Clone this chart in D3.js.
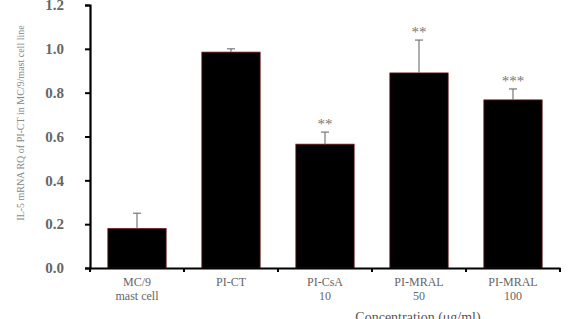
<!DOCTYPE html>
<html>
<head>
<meta charset="utf-8">
<script src="https://cdn.jsdelivr.net/npm/d3@7"></script>
<style>
  body { margin: 0; background: #fff; }
  svg { display: block; }
  .tick text { font-family: "Liberation Serif", "DejaVu Serif", serif; fill: #666; }
</style>
</head>
<body>
<svg id="chart" width="570" height="319"></svg>
<script>
const MARGIN = { top: 5, right: 10, bottom: 51, left: 90 }
const W = 570, H = 319

// data
const categories = ['MC/9|mast cell', 'PI-CT', 'PI-CsA|10', 'PI-MRAL|50', 'PI-MRAL|100']
const values = [0.18, 0.985, 0.565, 0.89, 0.767]
const errors = [0.07, 0.015, 0.055, 0.15, 0.05]
const marks = ['', '', '**', '**', '***']
const yTicks = [0, 0.2, 0.4, 0.6, 0.8, 1.0, 1.2]

const boundedWidth = W - MARGIN.left - MARGIN.right
const boundedHeight = H - MARGIN.top - MARGIN.bottom

const $svg = d3.select('#chart')
const $g = $svg.append('g').attr('transform', `translate(${MARGIN.left},${MARGIN.top})`)

const xScale = d3.scaleBand()
    .domain(categories)
    .range([0, boundedWidth])
    .paddingInner(0.38)
    .paddingOuter(0.19)
const yScale = d3.scaleLinear().domain([0, 1.2]).range([boundedHeight, 0])

// bars
$g.selectAll('rect.bar')
    .data(categories)
    .join('rect')
    .attr('class', 'bar')
    .attr('x', d => xScale(d))
    .attr('width', xScale.bandwidth())
    .attr('y', (d, i) => yScale(values[i]))
    .attr('height', (d, i) => yScale(0) - yScale(values[i]))
    .attr('fill', '#000')
    .attr('stroke', '#6a1a1a')
    .attr('stroke-width', 0.8)

// error bars
const eb = $g.selectAll('g.err')
    .data(categories)
    .join('g')
    .attr('class', 'err')
eb.append('line')
    .attr('x1', d => xScale(d) + xScale.bandwidth() / 2)
    .attr('x2', d => xScale(d) + xScale.bandwidth() / 2)
    .attr('y1', (d, i) => yScale(values[i]))
    .attr('y2', (d, i) => yScale(values[i] + errors[i]))
    .attr('stroke', '#777').attr('stroke-width', 1.2)
eb.append('line')
    .attr('x1', d => xScale(d) + xScale.bandwidth() / 2 - 4)
    .attr('x2', d => xScale(d) + xScale.bandwidth() / 2 + 4)
    .attr('y1', (d, i) => yScale(values[i] + errors[i]))
    .attr('y2', (d, i) => yScale(values[i] + errors[i]))
    .attr('stroke', '#777').attr('stroke-width', 1.2)

// significance stars
$g.selectAll('text.sig')
    .data(categories)
    .join('text')
    .attr('class', 'sig')
    .attr('x', d => xScale(d) + xScale.bandwidth() / 2)
    .attr('y', (d, i) => yScale(values[i] + errors[i]) - 3)
    .attr('text-anchor', 'middle')
    .attr('font-family', 'Liberation Serif, serif')
    .attr('font-size', 15)
    .attr('fill', '#777')
    .text((d, i) => marks[i])

// y axis
const yAxis = $g.append('g')
    .call(d3.axisLeft(yScale).tickValues(yTicks).tickFormat(d3.format('.1f')).tickSize(5).tickSizeOuter(5).tickPadding(21))
yAxis.select('.domain').attr('stroke-width', 2.2)
yAxis.selectAll('.tick line').attr('stroke-width', 2)
yAxis.selectAll('.tick text').attr('font-size', 15).attr('font-weight', 'bold').attr('fill', '#8a8a8a')

// x axis
const xAxis = $g.append('g')
    .attr('transform', `translate(0,${boundedHeight})`)
    .call(d3.axisBottom(xScale).tickSize(0).tickSizeOuter(0).tickFormat(''))
xAxis.select('.domain').attr('stroke-width', 2.2)
// category boundary ticks
const step = xScale.step()
$g.selectAll('line.xtick')
    .data(d3.range(categories.length + 1))
    .join('line')
    .attr('class', 'xtick')
    .attr('x1', i => i * step).attr('x2', i => i * step)
    .attr('y1', boundedHeight).attr('y2', boundedHeight + 4)
    .attr('stroke', '#000').attr('stroke-width', 2)

// category labels
const lbl = $g.selectAll('text.cat')
    .data(categories)
    .join('text')
    .attr('class', 'cat')
    .attr('text-anchor', 'middle')
    .attr('font-family', 'Liberation Serif, serif')
    .attr('font-size', 12)
    .attr('fill', '#666')
    .attr('transform', d => `translate(${xScale(d) + xScale.bandwidth() / 2},${boundedHeight + 18})`)
lbl.selectAll('tspan')
    .data(d => d.split('|'))
    .join('tspan')
    .attr('x', 0)
    .attr('dy', (d, i) => i ? 14 : 0)
    .text(d => d)

// axis titles
$svg.append('text')
    .attr('x', 418).attr('y', 322)
    .attr('text-anchor', 'middle')
    .attr('font-family', 'Liberation Serif, serif')
    .attr('font-size', 14)
    .attr('fill', '#555')
    .text('Concentration (μg/ml)')

$svg.append('text')
    .attr('transform', `translate(24,${MARGIN.top + 118}) rotate(-90)`)
    .attr('text-anchor', 'middle')
    .attr('font-family', 'Liberation Serif, serif')
    .attr('font-size', 10)
    .attr('fill', '#888')
    .text('IL-5  mRNA  RQ of PI-CT in MC/9/mast cell line')
</script>
</body>
</html>
